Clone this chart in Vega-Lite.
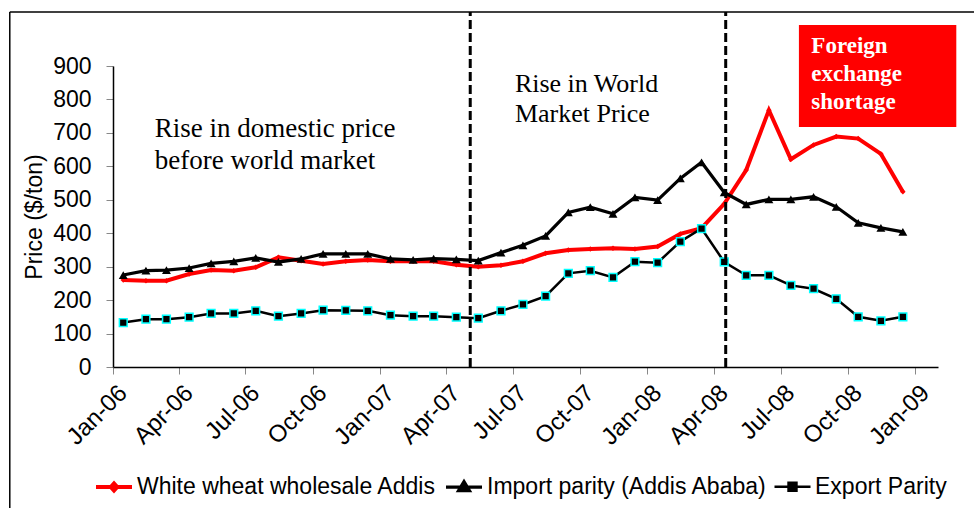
{
  "$schema": "https://vega.github.io/schema/vega-lite/v6.json",
  "width": 825,
  "height": 301,
  "autosize": {"type": "none"},
  "padding": {"left": 113, "top": 66, "right": 36, "bottom": 141},
  "background": "white",
  "config": {
    "view": {"stroke": null},
    "font": "Liberation Sans"
  },
  "datasets": {
    "prices": [
      {"date": "2006-01-15", "series": "White wheat wholesale Addis", "price": 260},
      {"date": "2006-02-15", "series": "White wheat wholesale Addis", "price": 258},
      {"date": "2006-03-15", "series": "White wheat wholesale Addis", "price": 258},
      {"date": "2006-04-15", "series": "White wheat wholesale Addis", "price": 278},
      {"date": "2006-05-15", "series": "White wheat wholesale Addis", "price": 290},
      {"date": "2006-06-15", "series": "White wheat wholesale Addis", "price": 288},
      {"date": "2006-07-15", "series": "White wheat wholesale Addis", "price": 298},
      {"date": "2006-08-15", "series": "White wheat wholesale Addis", "price": 328},
      {"date": "2006-09-15", "series": "White wheat wholesale Addis", "price": 318},
      {"date": "2006-10-15", "series": "White wheat wholesale Addis", "price": 308},
      {"date": "2006-11-15", "series": "White wheat wholesale Addis", "price": 316},
      {"date": "2006-12-15", "series": "White wheat wholesale Addis", "price": 320},
      {"date": "2007-01-15", "series": "White wheat wholesale Addis", "price": 316},
      {"date": "2007-02-15", "series": "White wheat wholesale Addis", "price": 316},
      {"date": "2007-03-15", "series": "White wheat wholesale Addis", "price": 316},
      {"date": "2007-04-15", "series": "White wheat wholesale Addis", "price": 306},
      {"date": "2007-05-15", "series": "White wheat wholesale Addis", "price": 300},
      {"date": "2007-06-15", "series": "White wheat wholesale Addis", "price": 304},
      {"date": "2007-07-15", "series": "White wheat wholesale Addis", "price": 316},
      {"date": "2007-08-15", "series": "White wheat wholesale Addis", "price": 340},
      {"date": "2007-09-15", "series": "White wheat wholesale Addis", "price": 350},
      {"date": "2007-10-15", "series": "White wheat wholesale Addis", "price": 353},
      {"date": "2007-11-15", "series": "White wheat wholesale Addis", "price": 355},
      {"date": "2007-12-15", "series": "White wheat wholesale Addis", "price": 353},
      {"date": "2008-01-15", "series": "White wheat wholesale Addis", "price": 360},
      {"date": "2008-02-15", "series": "White wheat wholesale Addis", "price": 398},
      {"date": "2008-03-15", "series": "White wheat wholesale Addis", "price": 415},
      {"date": "2008-04-15", "series": "White wheat wholesale Addis", "price": 488},
      {"date": "2008-05-15", "series": "White wheat wholesale Addis", "price": 589},
      {"date": "2008-06-15", "series": "White wheat wholesale Addis", "price": 768},
      {"date": "2008-07-15", "series": "White wheat wholesale Addis", "price": 621},
      {"date": "2008-08-15", "series": "White wheat wholesale Addis", "price": 664},
      {"date": "2008-09-15", "series": "White wheat wholesale Addis", "price": 689},
      {"date": "2008-10-15", "series": "White wheat wholesale Addis", "price": 683},
      {"date": "2008-11-15", "series": "White wheat wholesale Addis", "price": 637},
      {"date": "2008-12-15", "series": "White wheat wholesale Addis", "price": 524},
      {"date": "2006-01-15", "series": "Import parity (Addis Ababa)", "price": 275},
      {"date": "2006-02-15", "series": "Import parity (Addis Ababa)", "price": 288},
      {"date": "2006-03-15", "series": "Import parity (Addis Ababa)", "price": 290},
      {"date": "2006-04-15", "series": "Import parity (Addis Ababa)", "price": 296},
      {"date": "2006-05-15", "series": "Import parity (Addis Ababa)", "price": 310},
      {"date": "2006-06-15", "series": "Import parity (Addis Ababa)", "price": 316},
      {"date": "2006-07-15", "series": "Import parity (Addis Ababa)", "price": 326},
      {"date": "2006-08-15", "series": "Import parity (Addis Ababa)", "price": 314},
      {"date": "2006-09-15", "series": "Import parity (Addis Ababa)", "price": 323},
      {"date": "2006-10-15", "series": "Import parity (Addis Ababa)", "price": 338},
      {"date": "2006-11-15", "series": "Import parity (Addis Ababa)", "price": 338},
      {"date": "2006-12-15", "series": "Import parity (Addis Ababa)", "price": 338},
      {"date": "2007-01-15", "series": "Import parity (Addis Ababa)", "price": 323},
      {"date": "2007-02-15", "series": "Import parity (Addis Ababa)", "price": 320},
      {"date": "2007-03-15", "series": "Import parity (Addis Ababa)", "price": 324},
      {"date": "2007-04-15", "series": "Import parity (Addis Ababa)", "price": 322},
      {"date": "2007-05-15", "series": "Import parity (Addis Ababa)", "price": 318},
      {"date": "2007-06-15", "series": "Import parity (Addis Ababa)", "price": 342},
      {"date": "2007-07-15", "series": "Import parity (Addis Ababa)", "price": 364},
      {"date": "2007-08-15", "series": "Import parity (Addis Ababa)", "price": 392},
      {"date": "2007-09-15", "series": "Import parity (Addis Ababa)", "price": 462},
      {"date": "2007-10-15", "series": "Import parity (Addis Ababa)", "price": 478},
      {"date": "2007-11-15", "series": "Import parity (Addis Ababa)", "price": 458},
      {"date": "2007-12-15", "series": "Import parity (Addis Ababa)", "price": 507},
      {"date": "2008-01-15", "series": "Import parity (Addis Ababa)", "price": 499},
      {"date": "2008-02-15", "series": "Import parity (Addis Ababa)", "price": 564},
      {"date": "2008-03-15", "series": "Import parity (Addis Ababa)", "price": 612},
      {"date": "2008-04-15", "series": "Import parity (Addis Ababa)", "price": 522},
      {"date": "2008-05-15", "series": "Import parity (Addis Ababa)", "price": 486},
      {"date": "2008-06-15", "series": "Import parity (Addis Ababa)", "price": 501},
      {"date": "2008-07-15", "series": "Import parity (Addis Ababa)", "price": 501},
      {"date": "2008-08-15", "series": "Import parity (Addis Ababa)", "price": 509},
      {"date": "2008-09-15", "series": "Import parity (Addis Ababa)", "price": 479},
      {"date": "2008-10-15", "series": "Import parity (Addis Ababa)", "price": 431},
      {"date": "2008-11-15", "series": "Import parity (Addis Ababa)", "price": 416},
      {"date": "2008-12-15", "series": "Import parity (Addis Ababa)", "price": 404},
      {"date": "2006-01-15", "series": "Export Parity", "price": 133},
      {"date": "2006-02-15", "series": "Export Parity", "price": 143},
      {"date": "2006-03-15", "series": "Export Parity", "price": 143},
      {"date": "2006-04-15", "series": "Export Parity", "price": 149},
      {"date": "2006-05-15", "series": "Export Parity", "price": 160},
      {"date": "2006-06-15", "series": "Export Parity", "price": 160},
      {"date": "2006-07-15", "series": "Export Parity", "price": 168},
      {"date": "2006-08-15", "series": "Export Parity", "price": 152},
      {"date": "2006-09-15", "series": "Export Parity", "price": 160},
      {"date": "2006-10-15", "series": "Export Parity", "price": 170},
      {"date": "2006-11-15", "series": "Export Parity", "price": 169},
      {"date": "2006-12-15", "series": "Export Parity", "price": 168},
      {"date": "2007-01-15", "series": "Export Parity", "price": 155},
      {"date": "2007-02-15", "series": "Export Parity", "price": 152},
      {"date": "2007-03-15", "series": "Export Parity", "price": 152},
      {"date": "2007-04-15", "series": "Export Parity", "price": 149},
      {"date": "2007-05-15", "series": "Export Parity", "price": 146},
      {"date": "2007-06-15", "series": "Export Parity", "price": 168},
      {"date": "2007-07-15", "series": "Export Parity", "price": 187},
      {"date": "2007-08-15", "series": "Export Parity", "price": 212},
      {"date": "2007-09-15", "series": "Export Parity", "price": 280},
      {"date": "2007-10-15", "series": "Export Parity", "price": 288},
      {"date": "2007-11-15", "series": "Export Parity", "price": 268},
      {"date": "2007-12-15", "series": "Export Parity", "price": 315},
      {"date": "2008-01-15", "series": "Export Parity", "price": 312},
      {"date": "2008-02-15", "series": "Export Parity", "price": 375},
      {"date": "2008-03-15", "series": "Export Parity", "price": 414},
      {"date": "2008-04-15", "series": "Export Parity", "price": 314},
      {"date": "2008-05-15", "series": "Export Parity", "price": 274},
      {"date": "2008-06-15", "series": "Export Parity", "price": 274},
      {"date": "2008-07-15", "series": "Export Parity", "price": 244},
      {"date": "2008-08-15", "series": "Export Parity", "price": 234},
      {"date": "2008-09-15", "series": "Export Parity", "price": 204},
      {"date": "2008-10-15", "series": "Export Parity", "price": 150},
      {"date": "2008-11-15", "series": "Export Parity", "price": 138},
      {"date": "2008-12-15", "series": "Export Parity", "price": 150}
    ],
    "one": [{}]
  },
  "data": {"name": "prices"},
  "layer": [
    {
      "mark": {"type": "line"},
      "encoding": {
        "x": {
          "field": "date", "type": "temporal",
          "scale": {"type": "utc", "domain": [{"year": 2006, "month": 1, "date": 1, "utc": true}, {"year": 2009, "month": 2, "date": 1, "utc": true}], "nice": false},
          "axis": {
            "title": null,
            "format": "%b-%y",
            "tickCount": {"interval": "month", "step": 3},
            "grid": false,
            "domainColor": "#000000",
            "domainWidth": 1.5,
            "tickColor": "#888888",
            "tickSize": 7,
            "labelAngle": -45,
            "labelAlign": "right",
            "labelBaseline": "middle",
            "labelFont": "Liberation Sans",
            "labelFontSize": 24,
            "labelColor": "#000000",
            "labelPadding": 15,
            "labelOffset": 10,
            "labelOverlap": false,
            "labelFlush": false
          }
        },
        "y": {
          "field": "price", "type": "quantitative",
          "scale": {"domain": [0, 900], "nice": false, "zero": true},
          "axis": {
            "title": "Price ($/ton)",
            "titleFont": "Liberation Sans",
            "titleFontSize": 23,
            "titleFontWeight": "normal",
            "titleColor": "#000000",
            "titlePadding": 6,
            "values": [0, 100, 200, 300, 400, 500, 600, 700, 800, 900],
            "tickCount": 10,
            "labelOverlap": false,
            "grid": false,
            "domainColor": "#000000",
            "domainWidth": 1.5,
            "tickColor": "#888888",
            "tickSize": 7,
            "labelFont": "Liberation Sans",
            "labelFontSize": 23,
            "labelColor": "#000000",
            "labelPadding": 15
          }
        },
        "color": {
          "field": "series", "type": "nominal",
          "scale": {"domain": ["White wheat wholesale Addis", "Import parity (Addis Ababa)", "Export Parity"], "range": ["#FF0000", "#000000", "#000000"]},
          "legend": {
            "title": null,
            "orient": "none",
            "direction": "horizontal",
            "legendX": -19,
            "legendY": 401,
            "padding": 0,
            "symbolSize": 1296,
            "symbolType": "M-1,0H1",
            "symbolStrokeWidth": 3,
            "labelFont": "Liberation Sans",
            "labelFontSize": 23,
            "labelColor": "#000000",
            "labelOffset": 3,
            "columnPadding": 2,
            "labelLimit": 0,
            "encode": {
              "symbols": {
                "update": {
                  "shape": {"signal": "datum.value === 'White wheat wholesale Addis' ? 'M-1,0H1M-0.18,0L0,-0.2L0.18,0L0,0.2Z' : datum.value === 'Import parity (Addis Ababa)' ? 'M-1,0H1M-0.3,0.2L0,-0.3L0.3,0.2Z' : 'M-1,0H1M-0.22,-0.22H0.22V0.22H-0.22Z'"},
                  "fill": {"signal": "datum.value === 'White wheat wholesale Addis' ? '#FF0000' : '#000000'"},
                  "stroke": {"signal": "datum.value === 'White wheat wholesale Addis' ? '#FF0000' : '#000000'"},
                  "strokeWidth": {"signal": "datum.value === 'White wheat wholesale Addis' ? 4 : 2.5"},
                  "opacity": {"value": 1}
                }
              }
            }
          }
        },
        "strokeWidth": {
          "field": "series", "type": "nominal",
          "scale": {"domain": ["White wheat wholesale Addis", "Import parity (Addis Ababa)", "Export Parity"], "range": [4, 2.5, 2.5]},
          "legend": null
        }
      }
    },
    {
      "transform": [{"filter": "datum.series === 'White wheat wholesale Addis'"}],
      "mark": {"type": "point", "shape": "diamond", "filled": true, "opacity": 1, "size": 30, "color": "#FF0000"},
      "encoding": {
        "x": {"field": "date", "type": "temporal"},
        "y": {"field": "price", "type": "quantitative"}
      }
    },
    {
      "transform": [{"filter": "datum.series === 'Import parity (Addis Ababa)'"}],
      "mark": {"type": "point", "shape": "triangle-up", "filled": true, "opacity": 1, "size": 80, "color": "#000000"},
      "encoding": {
        "x": {"field": "date", "type": "temporal"},
        "y": {"field": "price", "type": "quantitative"}
      }
    },
    {
      "transform": [{"filter": "datum.series === 'Export Parity'"}],
      "mark": {"type": "point", "shape": "square", "filled": true, "opacity": 1, "size": 60, "fill": "#000000", "stroke": "#00FFFF", "strokeWidth": 1.5},
      "encoding": {
        "x": {"field": "date", "type": "temporal"},
        "y": {"field": "price", "type": "quantitative"}
      }
    },
    {
      "data": {"name": "one"},
      "mark": {"type": "rule", "color": "#000000", "strokeWidth": 1.5},
      "encoding": {
        "y": {"datum": 1061.5, "type": "quantitative"},
        "x": {"datum": {"year": 2005, "month": 8, "date": 13, "utc": true}, "type": "temporal"},
        "x2": {"datum": {"year": 2009, "month": 12, "date": 1, "utc": true}}
      }
    },
    {
      "data": {"name": "one"},
      "mark": {"type": "rule", "color": "#000000", "strokeWidth": 1.5},
      "encoding": {
        "x": {"datum": {"year": 2005, "month": 8, "date": 13, "utc": true}, "type": "temporal"},
        "y": {"datum": 1061.5, "type": "quantitative"},
        "y2": {"datum": -600}
      }
    },
    {
      "data": {"name": "one"},
      "mark": {"type": "rule", "color": "#000000", "strokeWidth": 3, "strokeDash": [9, 4]},
      "encoding": {
        "x": {"datum": {"year": 2007, "month": 5, "date": 4, "utc": true}, "type": "temporal"},
        "y": {"datum": 0, "type": "quantitative"},
        "y2": {"datum": 1061.5}
      }
    },
    {
      "data": {"name": "one"},
      "mark": {"type": "rule", "color": "#000000", "strokeWidth": 3, "strokeDash": [9, 4]},
      "encoding": {
        "x": {"datum": {"year": 2008, "month": 4, "date": 17, "utc": true}, "type": "temporal"},
        "y": {"datum": 0, "type": "quantitative"},
        "y2": {"datum": 1061.5}
      }
    },
    {
      "data": {"name": "one"},
      "mark": {"type": "rect", "fill": "#FF0000"},
      "encoding": {
        "x": {"datum": {"year": 2008, "month": 7, "date": 26, "utc": true}, "type": "temporal"},
        "x2": {"datum": {"year": 2009, "month": 2, "date": 26, "utc": true}},
        "y": {"datum": 1022.6, "type": "quantitative"},
        "y2": {"datum": 717.6}
      }
    },
    {
      "data": {"name": "one"},
      "mark": {"type": "text", "text": ["Foreign", "exchange", "shortage"], "font": "Liberation Serif", "fontWeight": "bold", "fontSize": 23, "lineHeight": 28, "color": "#FFFFFF", "align": "left", "baseline": "alphabetic"},
      "encoding": {
        "x": {"datum": {"year": 2008, "month": 8, "date": 12, "utc": true}, "type": "temporal"},
        "y": {"datum": 938, "type": "quantitative"}
      }
    },
    {
      "data": {"name": "one"},
      "mark": {"type": "text", "text": ["Rise in domestic price", "before world market"], "font": "Liberation Serif", "fontSize": 27, "lineHeight": 32, "color": "#000000", "align": "left", "baseline": "alphabetic"},
      "encoding": {
        "x": {"datum": {"year": 2006, "month": 2, "date": 27, "utc": true}, "type": "temporal"},
        "y": {"datum": 688.6, "type": "quantitative"}
      }
    },
    {
      "data": {"name": "one"},
      "mark": {"type": "text", "text": ["Rise in World", "Market Price"], "font": "Liberation Serif", "fontSize": 26, "lineHeight": 30, "color": "#000000", "align": "left", "baseline": "alphabetic"},
      "encoding": {
        "x": {"datum": {"year": 2007, "month": 7, "date": 4, "utc": true}, "type": "temporal"},
        "y": {"datum": 823.2, "type": "quantitative"}
      }
    }
  ]
}
